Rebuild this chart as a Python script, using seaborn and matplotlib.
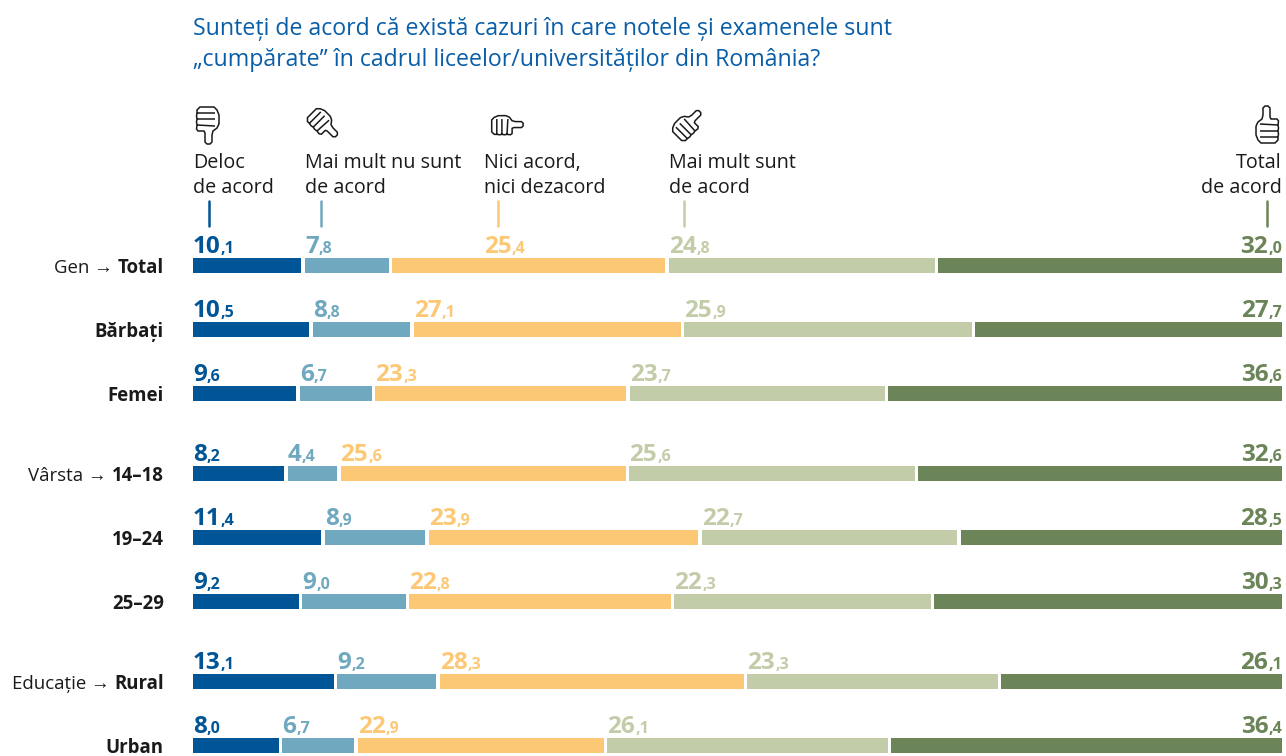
import numpy as np
import seaborn as sns
import matplotlib.pyplot as plt
from matplotlib.path import Path
from matplotlib.patches import PathPatch
from matplotlib.lines import Line2D
from matplotlib.transforms import Affine2D

sns.set_style("white")
plt.rcParams['font.family'] = ['Open Sans', 'Liberation Sans']

title = "Sunteți de acord că există cazuri în care notele și examenele sunt\n„cumpărate” în cadrul liceelor/universităților din România?"

rows = ['Total', 'Bărbați', 'Femei', '14–18', '19–24', '25–29', 'Rural', 'Urban']
prefixes = ['Gen → ', '', '', 'Vârsta → ', '', '', 'Educație → ', '']
answers = ['Deloc\nde acord', 'Mai mult nu sunt\nde acord', 'Nici acord,\nnici dezacord',
           'Mai mult sunt\nde acord', 'Total\nde acord']

deloc = [10.1, 10.5, 9.6, 8.2, 11.4, 9.2, 13.1, 8.0]
mai_mult_nu = [7.8, 8.8, 6.7, 4.4, 8.9, 9.0, 9.2, 6.7]
nici = [25.4, 27.1, 23.3, 25.6, 23.9, 22.8, 28.3, 22.9]
mai_mult = [24.8, 25.9, 23.7, 25.6, 22.7, 22.3, 23.3, 26.1]
total = [32.0, 27.7, 36.6, 32.6, 28.5, 30.3, 26.1, 36.4]
series = [deloc, mai_mult_nu, nici, mai_mult, total]

# the printed 27,1 for Bărbați does not fit its bar, the bar reads as 24,1
nici_bar = [25.4, 24.1, 23.3, 25.6, 23.9, 22.8, 28.3, 22.9]
bar_series = [deloc, mai_mult_nu, nici_bar, mai_mult, total]

colors = ['#005596', '#70a8bf', '#fdc875', '#c3cca8', '#6b8558']
title_color = '#0a5ea8'
ink = '#1a1a1a'

W, H = 1286, 756
# row spacing in the picture: 64 px, groups get a quarter row extra
ypos = np.array([0, 1, 2, 3.25, 4.25, 5.25, 6.5, 7.5])
px_row = 64.
# every row fills the full width, 4 gaps included
px_gap = 3.5
px_unit = (1089 - 4 * px_gap) / 100
gap = px_gap / px_unit
row_sum = np.sum(bar_series, axis=0)

fig = plt.figure(figsize=(W / 100, H / 100), dpi=100)
ax = fig.add_axes([193 / W, 0, 1089 / W, (H - 230) / H])

left = np.zeros(len(rows))
starts = []
for i, vals in enumerate(bar_series):
    share = np.array(vals) / row_sum * 100
    sns.barplot(x=share, y=ypos, orient='h', native_scale=True, left=left, width=0.24,
                color=colors[i], saturation=1, linewidth=0, ax=ax)
    starts.append(left.copy())
    left = left + share + gap

xmax = 1089 / px_unit
ax.set_xlim(0, xmax)
ax.set_ylim((H - 265.5) / px_row, (230 - 265.5) / px_row)
ax.set(xlabel='', ylabel='', xticks=[])
ax.set_yticks(ypos + 0.11, rows, fontweight='bold', fontsize=13.4, color=ink, va='baseline')
ax.tick_params(axis='y', length=0, pad=21)
sns.despine(ax=ax, left=True, bottom=True)

# the regular prefix sits in front of the bold row label
for i, p in enumerate(prefixes):
    if p:
        ax.annotate(p, xy=(0, ypos[i] + 0.11), xycoords=(ax.get_yticklabels()[i], 'data'),
                    ha='right', va='baseline', fontsize=13.4, color=ink, annotation_clip=False)

# column headers
text_x = [193, 305, 484, 669, 1282]
tick_x = [209, 321, 498, 684, 1267]

# value labels, decimals smaller than the whole part
num_kw = dict(fontweight='bold', va='baseline', annotation_clip=False)
for r in range(len(rows)):
    y = ypos[r] - 0.195
    for i, vals in enumerate(series):
        whole, dec = ('%.1f' % vals[r]).split('.')
        if i < 4:
            # first row lines up with the header texts, the others with their bars
            x = (text_x[i] - 193) / px_unit if r == 0 else starts[i][r]
            t = ax.annotate(whole, xy=(x, y), color=colors[i], fontsize=17.5, ha='left', **num_kw)
            ax.annotate(',' + dec, xy=(1, y), xycoords=(t, 'data'), color=colors[i], fontsize=11.5, ha='left', **num_kw)
        else:
            t = ax.annotate(',' + dec, xy=(xmax, y), color=colors[i], fontsize=11.5, ha='right', **num_kw)
            ax.annotate(whole, xy=(0, y), xycoords=(t, 'data'), color=colors[i], fontsize=17.5, ha='right', **num_kw)

fig.text(193 / W, 1 - 66 / H, title, color=title_color, fontsize=16.7, va='baseline', linespacing=1.38)

for i, a in enumerate(answers):
    fig.text(text_x[i] / W, 1 - 193 / H, a, fontsize=14.2, color=ink, va='baseline',
             ha='right' if i == 4 else 'left', linespacing=1.33)
    fig.add_artist(Line2D([tick_x[i] / W] * 2, [1 - 201 / H, 1 - 226 / H], color=colors[i], lw=1.8))


def hand_path():
    # thumb up outline, y up, px around the centre
    v, c = [], []
    def add(pts):
        for k, p in enumerate(pts):
            v.append(p)
            c.append(Path.MOVETO if k == 0 else Path.LINETO)
    add([(-11, -1), (-9, 3), (-5, 6), (-4, 10), (-4, 17), (-2, 19), (1, 19), (3, 17), (3, 8), (4, 6),
         (10, 6), (11.5, 4), (11, 0), (11.5, -3), (11, -6), (11.5, -9), (11, -12), (11, -15), (8, -18),
         (-6, -18), (-9, -15), (-11, -10), (-11, -1)])
    add([(-7, 1), (11, 0)])
    add([(-7, -6), (11, -6)])
    add([(-7, -12), (11, -12)])
    return Path(v, c)


icon_xy = [(208, 125), (324, 124), (507, 125), (688, 124), (1267, 125)]
icon_angle = [180, 225, 270, 315, 0]
icon_scale = [1.0, 0.9, 0.85, 0.9, 1.0]
hand = hand_path()
for (cx, cy), a, s in zip(icon_xy, icon_angle, icon_scale):
    tr = Affine2D().scale(s).rotate_deg(a).translate(cx, H - cy)
    fig.add_artist(PathPatch(hand, transform=tr, facecolor='white', edgecolor=ink, lw=1.1))

fig.savefig('out.png', dpi=100)
